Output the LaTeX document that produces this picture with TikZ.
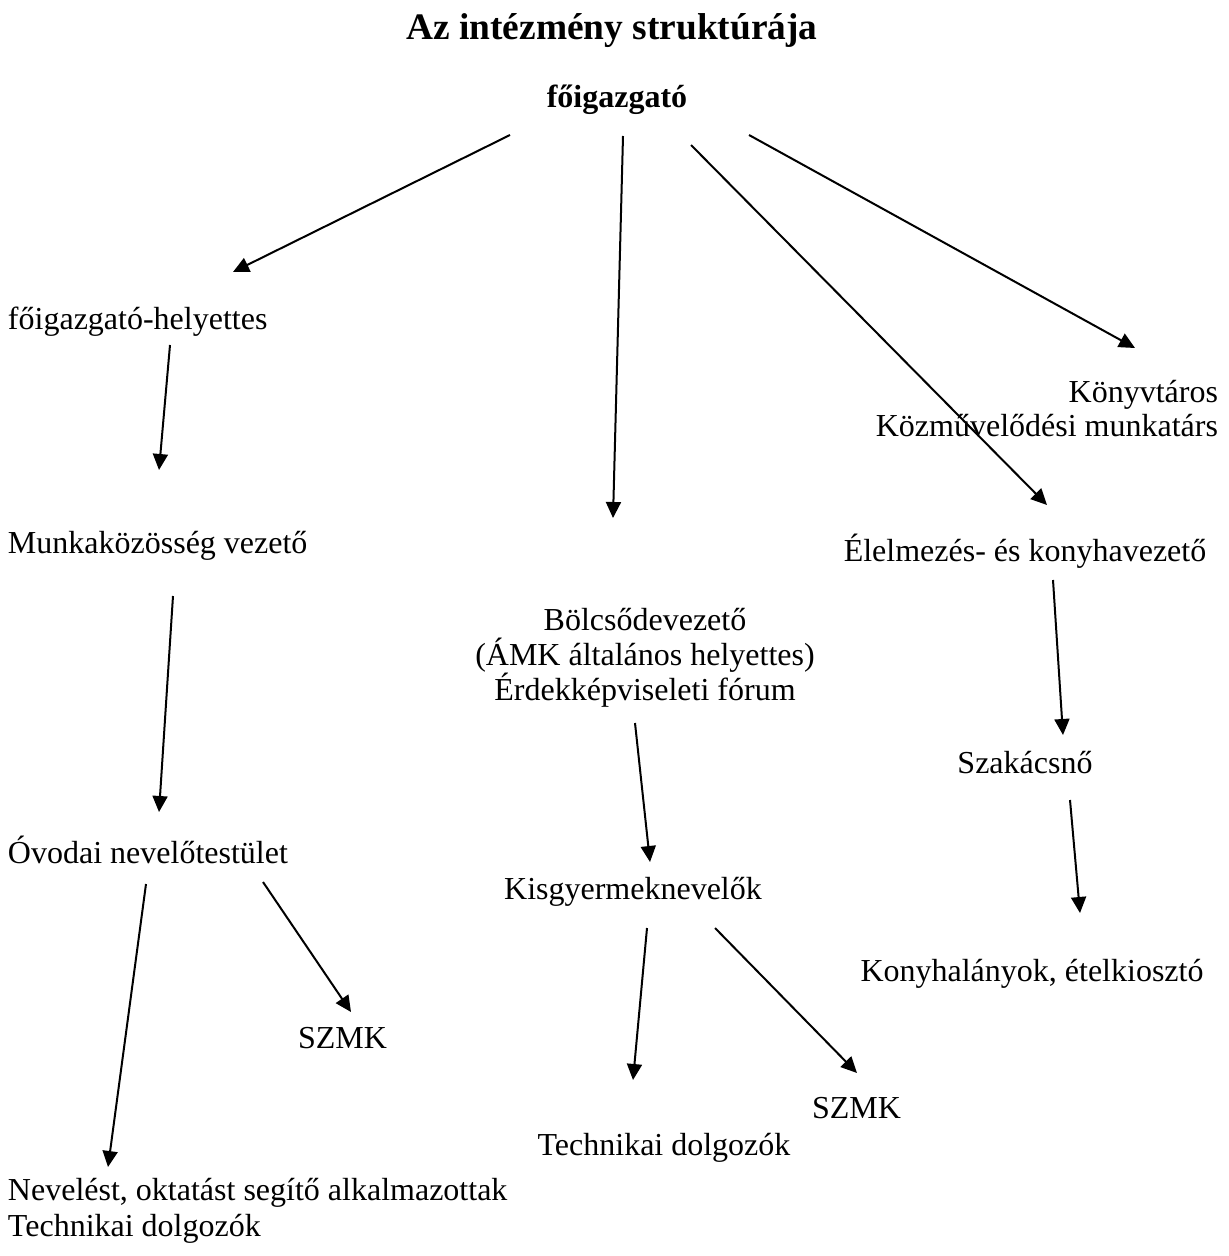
\documentclass[tikz,border=0pt]{standalone}
\usepackage{fontspec}
\setmainfont{Liberation Serif}
\usetikzlibrary{arrows.meta}
\tikzset{
  lbl/.style={inner sep=0pt, outer sep=0pt, font=\fontsize{16}{17.5}\selectfont},
  ttl/.style={inner sep=0pt, outer sep=0pt, font=\fontsize{18.7}{20}\selectfont\bfseries},
  boss/.style={inner sep=0pt, outer sep=0pt, font=\fontsize{16}{17.5}\selectfont\bfseries},
  arr/.style={line width=1pt, -{Triangle[length=8pt,width=7.5pt]}}
}
\begin{document}
\begin{tikzpicture}[x=0.5pt,y=-0.5pt]
\useasboundingbox (0,0) rectangle (1229,1256);
% texts
\node[ttl, anchor=base] (title) at (612,40) {Az intézmény struktúrája};
\node[boss, anchor=base] (fo) at (617,108) {főigazgató};
\node[lbl, anchor=base west] (helyettes) at (8,330) {főigazgató-helyettes};
\node[lbl, anchor=base west] (mkv) at (8,553) {Munkaközösség vezető};
\node[lbl, anchor=base west] (ovodai) at (8,863) {Óvodai nevelőtestület};
\node[lbl, anchor=base west] (neveles) at (8,1200) {Nevelést, oktatást segítő alkalmazottak};
\node[lbl, anchor=base west] (tech1) at (8,1236) {Technikai dolgozók};
\node[lbl, anchor=base west] (szmk1) at (298,1048) {SZMK};
\node[lbl, anchor=base] (bolcs1) at (645,630) {Bölcsődevezető};
\node[lbl, anchor=base] (bolcs2) at (645,665) {(ÁMK általános helyettes)};
\node[lbl, anchor=base] (bolcs3) at (645,700) {Érdekképviseleti fórum};
\node[lbl, anchor=base] (kisgy) at (633,899) {Kisgyermeknevelők};
\node[lbl, anchor=base] (tech2) at (664,1155) {Technikai dolgozók};
\node[lbl, anchor=base west] (szmk2) at (812,1118) {SZMK};
\node[lbl, anchor=base east] (konyv) at (1218,402) {Könyvtáros};
\node[lbl, anchor=base east] (kozmuv) at (1218,437) {Közművelődési munkatárs};
\node[lbl, anchor=base] (elelm) at (1025,561) {Élelmezés- és konyhavezető};
\node[lbl, anchor=base] (szakacs) at (1025,773) {Szakácsnő};
\node[lbl, anchor=base] (konyha) at (1032,981) {Konyhalányok, ételkiosztó};
% arrow end points
\coordinate (a1s) at (510,135);  \coordinate (a1e) at (233,272);
\coordinate (a2s) at (623,136);  \coordinate (a2e) at (613,518);
\coordinate (a3s) at (691,145);  \coordinate (a3e) at (1047,505);
\coordinate (a4s) at (749,135);  \coordinate (a4e) at (1135,348);
\coordinate (a5s) at (170,345);  \coordinate (a5e) at (159,470);
\coordinate (a6s) at (173,596);  \coordinate (a6e) at (159,812);
\coordinate (a7s) at (146,884);  \coordinate (a7e) at (108,1167);
\coordinate (a8s) at (263,882);  \coordinate (a8e) at (351,1012);
\coordinate (a9s) at (635,723);  \coordinate (a9e) at (650,862);
\coordinate (a10s) at (647,928); \coordinate (a10e) at (633,1080);
\coordinate (a11s) at (715,928); \coordinate (a11e) at (857,1073);
\coordinate (a12s) at (1053,580); \coordinate (a12e) at (1063,735);
\coordinate (a13s) at (1070,800); \coordinate (a13e) at (1080,913);
\foreach \i in {1,...,13} {\draw[arr] (a\i s) -- (a\i e);}
\end{tikzpicture}
\end{document}
